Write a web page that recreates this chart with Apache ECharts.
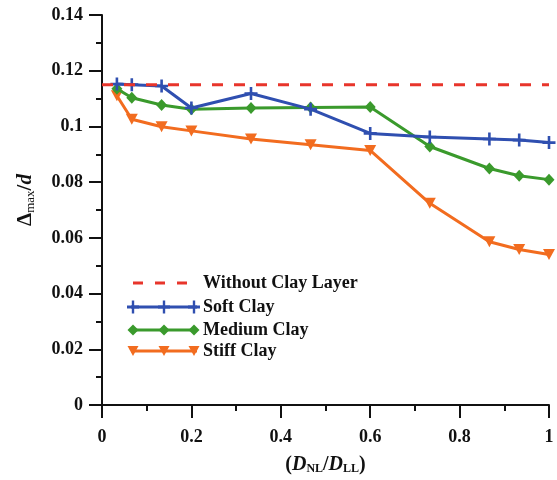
<!DOCTYPE html>
<html><head><meta charset="utf-8">
<script src="https://cdn.jsdelivr.net/npm/echarts@6/dist/echarts.min.js"></script>
<style>html,body{margin:0;padding:0;background:#fff}#c{width:557px;height:480px}</style>
</head><body><div id="c"></div>
<script>
var xValues = [1/30, 1/15, 2/15, 3/15, 5/15, 7/15, 9/15, 11/15, 13/15, 14/15, 1];
var softClay = [0.1152, 0.1150, 0.1145, 0.1066, 0.1118, 0.1062, 0.0975, 0.0962, 0.0955, 0.0951, 0.0942];
var mediumClay = [0.1135, 0.1103, 0.1077, 0.1062, 0.1066, 0.1068, 0.1070, 0.0928, 0.0849, 0.0823, 0.0809];
var stiffClay = [0.1110, 0.1026, 0.0999, 0.0984, 0.0955, 0.0934, 0.0914, 0.0724, 0.0586, 0.0558, 0.0540];
var withoutClayX = [0, 1];
var withoutClay = [0.115, 0.115];
var seriesNames = ['Without Clay Layer', 'Soft Clay', 'Medium Clay', 'Stiff Clay'];

var FONT = '"Liberation Serif", "Times New Roman", serif';
var C_RED = '#e8352b', C_BLUE = '#2f4fb0', C_GREEN = '#3a9a2c', C_ORANGE = '#f26c1f';
var PLUS = 'path://M-1.2,-6H1.2V-1.2H6V1.2H1.2V6H-1.2V1.2H-6V-1.2H-1.2Z';

function pairs(xs, ys){ return xs.map(function(x,i){ return [x, ys[i]]; }); }

var chart = echarts.init(document.getElementById('c'));

// legend drawn as graphic
var lg = [];
var lx0 = 131, lx1 = 197, tx = 203;
var ly = [283, 307, 330, 351];
lg.push({type:'line', shape:{x1:133, y1:ly[0], x2:190, y2:ly[0]}, style:{stroke:C_RED, lineWidth:3, lineDash:[10,12]}});
function legLine(y, color){ lg.push({type:'line', shape:{x1:lx0, y1:y, x2:lx1, y2:y}, style:{stroke:color, lineWidth:3}}); }
legLine(ly[1], C_BLUE); legLine(ly[2], C_GREEN); legLine(ly[3], C_ORANGE);
[lx0+2, (lx0+lx1)/2, lx1-3].forEach(function(mx){
  lg.push({type:'rect', shape:{x:mx-1.2, y:ly[1]-6.5, width:2.4, height:13}, style:{fill:C_BLUE}});
  lg.push({type:'rect', shape:{x:mx-6, y:ly[1]-1.5, width:12, height:3}, style:{fill:C_BLUE}});
  lg.push({type:'polygon', shape:{points:[[mx-5.5,ly[2]],[mx,ly[2]-5.5],[mx+5.5,ly[2]],[mx,ly[2]+5.5]]}, style:{fill:C_GREEN}});
  lg.push({type:'polygon', shape:{points:[[mx-5.5,ly[3]-5],[mx+5.5,ly[3]-5],[mx,ly[3]+5]]}, style:{fill:C_ORANGE}});
});
seriesNames.forEach(function(n,i){
  lg.push({type:'text', x:tx, y:ly[i], style:{text:n, font:'bold 18px ' + FONT, fill:'#111', verticalAlign:'middle'}});
});
// y axis title
lg.push({type:'text', x:26, y:200, rotation:Math.PI/2, style:{
  text:'{d|Δ}{s|max}{p|/}{i|d}', align:'center', verticalAlign:'middle',
  rich:{
    d:{fontFamily:FONT, fontWeight:'bold', fontSize:21, fill:'#111', color:'#111'},
    p:{fontFamily:FONT, fontWeight:'bold', fontSize:21, fill:'#111', color:'#111'},
    i:{fontFamily:FONT, fontWeight:'bold', fontStyle:'italic', fontSize:21, fill:'#111', color:'#111'},
    s:{fontFamily:FONT, fontSize:13, fill:'#111', color:'#111', verticalAlign:'bottom', padding:[10,0,0,0]}
  }}});

chart.setOption({
  animation:false,
  backgroundColor:'#fff',
  grid:{left:102, right:8, top:15, bottom:72, containLabel:false},
  xAxis:{
    type:'value', min:0, max:1, interval:0.2,
    axisLine:{lineStyle:{color:'#111', width:2}},
    axisTick:{inside:false, length:13, lineStyle:{color:'#111', width:2}},
    minorTick:{show:true, splitNumber:2, length:6, lineStyle:{color:'#111', width:2}},
    splitLine:{show:false},
    axisLabel:{fontFamily:FONT, fontWeight:'bold', fontSize:18, color:'#111', margin:23,
      formatter:function(v){ return String(+v.toFixed(2)); }},
    name:'{p|(}{i|D}{s|NL}{p|/}{i|D}{s|LL}{p|)}', nameLocation:'middle', nameGap:49,
    nameTextStyle:{rich:{
      p:{fontFamily:FONT, fontWeight:'bold', fontSize:20, color:'#111'},
      i:{fontFamily:FONT, fontWeight:'bold', fontStyle:'italic', fontSize:20, color:'#111'},
      s:{fontFamily:FONT, fontWeight:'bold', fontSize:12, color:'#111', verticalAlign:'bottom', padding:[9,0,0,0]}
    }}
  },
  yAxis:{
    type:'value', min:0, max:0.14, interval:0.02,
    axisLine:{show:true, lineStyle:{color:'#111', width:2}},
    axisTick:{show:true, inside:false, length:13, lineStyle:{color:'#111', width:2}},
    minorTick:{show:true, splitNumber:2, length:6, lineStyle:{color:'#111', width:2}},
    splitLine:{show:false},
    axisLabel:{fontFamily:FONT, fontWeight:'bold', fontSize:18, color:'#111', margin:19,
      formatter:function(v){ return String(+v.toFixed(2)); }}
  },
  series:[
    {name:seriesNames[0], type:'line', data:pairs(withoutClayX, withoutClay), showSymbol:false, symbol:'none',
      lineStyle:{color:C_RED, width:3, type:[11,11]}, z:5},
    {name:seriesNames[1], type:'line', data:pairs(xValues, softClay), symbol:PLUS, symbolSize:13,
      itemStyle:{color:C_BLUE}, lineStyle:{color:C_BLUE, width:3}, z:4},
    {name:seriesNames[2], type:'line', data:pairs(xValues, mediumClay), symbol:'diamond', symbolSize:[11,12],
      itemStyle:{color:C_GREEN}, lineStyle:{color:C_GREEN, width:3}, z:3},
    {name:seriesNames[3], type:'line', data:pairs(xValues, stiffClay), symbol:'triangle', symbolRotate:180, symbolSize:[12,11],
      itemStyle:{color:C_ORANGE}, lineStyle:{color:C_ORANGE, width:3}, z:2}
  ],
  graphic:lg
});
</script></body></html>
